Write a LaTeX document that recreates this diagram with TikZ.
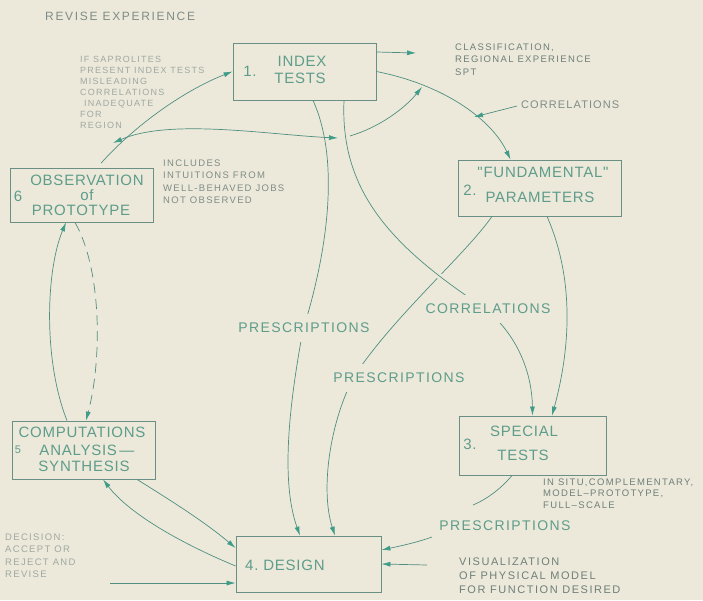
\documentclass[tikz,border=0pt]{standalone}
\usepackage{fontspec}
\setmainfont{Liberation Sans}
\newfontfamily\boxfont[LetterSpace=5]{Liberation Sans}
\newfontfamily\labfont[LetterSpace=10]{Liberation Sans}
\newfontfamily\notefont[LetterSpace=14]{Liberation Sans}
\usetikzlibrary{arrows.meta}
\definecolor{bgc}{HTML}{ECE9DA}
\definecolor{linec}{HTML}{4F8F82}
\definecolor{tipc}{HTML}{3E9C88}
\definecolor{boxc}{HTML}{6A8F85}
\definecolor{boxtxtc}{HTML}{5E9C8B}
\definecolor{greyc}{HTML}{7F8C88}
\definecolor{faintc}{HTML}{A0A8A2}
\definecolor{darknc}{HTML}{6E7F7A}
\begin{document}
\begin{tikzpicture}[x=1pt,y=-1pt,
  box/.style={draw=boxc,line width=0.8pt,inner sep=0pt},
  boxtxt/.style={text=boxtxtc,inner sep=0pt,font=\boxfont\fontsize{15}{17}\selectfont},
  conn/.style={draw=linec,line width=0.7pt},
  tip/.style={-{Latex[length=9pt,width=5pt,color=tipc]}},
  midlab/.style={text=boxtxtc,fill=bgc,inner xsep=1pt,inner ysep=9pt,font=\labfont\fontsize{14}{16}\selectfont},
  note/.style={align=left,anchor=north west,inner sep=0pt,font=\notefont\fontsize{9.5}{12.5}\selectfont}
]
\fill[bgc] (0,0) rectangle (703,600);
\useasboundingbox (0,0) rectangle (703,600);

% boxes
\node[box,minimum width=143pt,minimum height=57pt] (b1) at (304.5,71.5) {};
\node[box,minimum width=163pt,minimum height=56pt] (b2) at (539.5,188) {};
\node[box,minimum width=147pt,minimum height=59pt] (b3) at (532.5,445.5) {};
\node[box,minimum width=145pt,minimum height=56pt] (b4) at (308.5,564) {};
\node[box,minimum width=143pt,minimum height=58pt] (b5) at (83.5,450) {};
\node[box,minimum width=143pt,minimum height=54pt] (b6) at (81.5,195) {};

% box texts
\node[boxtxt] (n1) at (250,71) {1.};
\node[boxtxt] (t1a) at (302,61) {INDEX};
\node[boxtxt] (t1b) at (300,78) {TESTS};
\node[boxtxt] (n2) at (470,190) {2.};
\node[boxtxt] (t2a) at (543,172) {"FUNDAMENTAL"};
\node[boxtxt] (t2b) at (540,197) {PARAMETERS};
\node[boxtxt] (n3) at (470,444) {3.};
\node[boxtxt] (t3a) at (524,431) {SPECIAL};
\node[boxtxt] (t3b) at (523,455) {TESTS};
\node[boxtxt,anchor=west] (t4) at (245,565) {4.\ DESIGN};
\node[boxtxt] (n5) at (18,450) {\fontsize{11}{12}\selectfont 5};
\node[boxtxt] (t5a) at (82,432) {COMPUTATIONS};
\node[boxtxt] (t5b) at (87,450) {ANALYSIS\,—};
\node[boxtxt] (t5c) at (84,466) {SYNTHESIS};
\node[boxtxt] (n6) at (18,196) {6};
\node[boxtxt] (t6a) at (87,180) {OBSERVATION};
\node[boxtxt] (t6b) at (87,195) {of};
\node[boxtxt] (t6c) at (81,210) {PROTOTYPE};

% notes
\node[anchor=west,inner sep=0pt,text=greyc,font=\notefont\fontsize{12}{14}\selectfont] (rev) at (45,16) {REVISE EXPERIENCE};
\node[note,text=faintc,font=\notefont\fontsize{9}{11}\selectfont] (ifsap) at (80,56.5) {IF SAPROLITES\\PRESENT INDEX TESTS\\MISLEADING\\CORRELATIONS\\\hspace{4pt}INADEQUATE\\FOR\\REGION};
\node[note,text=greyc] (incl) at (163,159.6) {INCLUDES\\INTUITIONS FROM\\WELL-BEHAVED JOBS\\NOT OBSERVED};
\node[note,text=darknc] (cls) at (455,43.6) {CLASSIFICATION,\\REGIONAL EXPERIENCE\\SPT};
\node[note,text=darknc,font=\notefont\fontsize{9.5}{11.5}\selectfont] (insitu) at (543,478.6) {IN SITU,COMPLEMENTARY,\\MODEL–PROTOTYPE,\\FULL–SCALE};
\node[note,text=darknc,font=\notefont\fontsize{11}{14}\selectfont] (visu) at (459,558) {VISUALIZATION\\OF PHYSICAL MODEL\\FOR FUNCTION DESIRED};
\node[note,text=faintc] (dec) at (5,533.6) {DECISION:\\ACCEPT OR\\REJECT AND\\REVISE};
\node[anchor=west,inner sep=0pt,text=greyc,font=\labfont\fontsize{11}{13}\selectfont] (corsm) at (521,105) {CORRELATIONS};

% free ends
\coordinate (clsend) at (416,53);
\coordinate (ra) at (113,143);
\coordinate (rb) at (338,138);
\coordinate (rc) at (350,136);
\coordinate (rd) at (422,87);
\coordinate (ce) at (474,117);
\coordinate (visst) at (427,565);
\coordinate (decst) at (110,583);
\coordinate (pa) at (473,505);
\coordinate (pb) at (432,537);

% connectors
\draw[conn,tip] ([yshift=19.5pt]b1.east) -- (clsend);
\draw[conn,tip] (b1.east) .. controls (445,85) and (492,120) .. ([xshift=-29pt]b2.north);
\draw[conn,tip] ([xshift=-4pt,yshift=-1pt]corsm.west) -- (ce);
\draw[conn,tip,shorten <=6pt] ([xshift=15.5pt]b6.north) .. controls (140,120) and (190,88) .. (b1.west);
\draw[conn,{Latex[length=9pt,width=5pt,color=tipc]}-{Latex[length=9pt,width=5pt,color=tipc]}] (ra) .. controls (170,118) and (270,135) .. (rb);
\draw[conn,tip] (rc) .. controls (380,127) and (405,108) .. (rd);
% L1
\draw[conn,tip] ([xshift=8.5pt]b1.south) .. controls (340,160) and (328,250) .. (303,330) .. controls (290,400) and (280,480) .. ([xshift=-8.5pt]b4.north);
% L3
\draw[conn,tip] ([xshift=-47.5pt]b2.south) .. controls (465,255) and (395,315) .. (355,375) .. controls (330,420) and (320,490) .. ([xshift=26.5pt]b4.north);
% L2
\draw[conn,tip,preaction={draw=bgc,line width=6pt,arrows=-,shorten <=20pt,shorten >=40pt}] ([xshift=39.5pt]b1.south) .. controls (340,190) and (390,245) .. (480,305) .. controls (515,330) and (532,370) .. (b3.north);
% L4
\draw[conn,tip] ([xshift=7.5pt]b2.south) .. controls (575,280) and (570,350) .. ([xshift=19.5pt]b3.north);
% bottom prescriptions
\draw[conn] ([xshift=-20.5pt]b3.south) .. controls (500,490) and (485,500) .. (pa);
\draw[conn,tip] (pb) .. controls (415,543) and (400,546) .. ([yshift=14pt]b4.east);
\draw[conn,tip] (visst) -- (b4.east);
% 5 <-> 4
\draw[conn,tip] ([xshift=53.5pt]b5.south) .. controls (170,500) and (205,522) .. ([yshift=16pt]b4.west);
\draw[conn,tip] ([yshift=-2pt]b4.west) .. controls (185,545) and (130,515) .. ([xshift=19.5pt]b5.south);
\draw[conn,tip] (decst) -- ([yshift=-19pt]b4.west);
% 6 <-> 5
\draw[conn,tip] ([xshift=-16.5pt]b5.north) .. controls (43,360) and (46,270) .. ([xshift=-15.5pt]b6.south);
\draw[conn,tip,dashed,dash pattern=on 10pt off 6pt] ([xshift=-6.5pt]b6.south) .. controls (102,270) and (102,360) .. ([xshift=2.5pt]b5.north);

% mid labels
\node[midlab] (pr1) at (304,328) {PRESCRIPTIONS};
\node[midlab] (cor1) at (488,309) {CORRELATIONS};
\node[midlab] (pr2) at (399,378) {PRESCRIPTIONS};
\node[midlab,fill=none] (pr3) at (505,526) {PRESCRIPTIONS};
\end{tikzpicture}
\end{document}
